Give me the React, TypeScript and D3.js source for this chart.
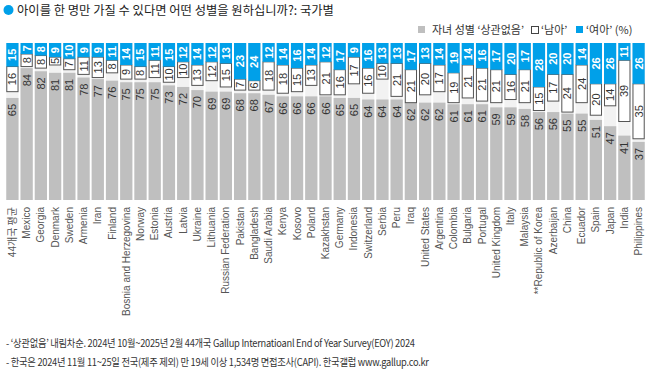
import React from "react";
import * as d3 from "d3";

const categories = ["44개국 평균","Mexico","Georgia","Denmark","Sweden","Armenia","Iran","Finland","Bosnia and Herzegovina","Norway","Estonia","Austria","Latvia","Ukraine","Lithuania","Russian Federation","Pakistan","Bangladesh","Saudi Arabia","Kenya","Kosovo","Poland","Kazakhstan","Germany","Indonesia","Switzerland","Serbia","Peru","Iraq","United States","Argentina","Colombia","Bulgaria","Portugal","United Kingdom","Italy","Malaysia","**Republic of Korea","Azerbaijan","China","Ecuador","Spain","Japan","India","Philippines"];
const noMatter = [65,84,82,81,81,78,77,76,75,75,75,73,72,70,69,69,68,68,67,66,66,66,66,65,65,64,64,64,62,62,62,61,61,61,59,59,58,56,56,55,55,51,47,41,37];
const boy = [16,8,8,5,7,11,13,8,9,8,11,10,10,13,12,15,7,6,18,18,15,13,21,16,17,16,10,21,21,20,17,19,21,21,21,16,21,15,17,24,24,20,14,39,35];
const girl = [15,7,8,9,10,9,9,11,14,15,11,15,12,14,12,13,23,24,12,14,16,14,12,17,9,16,13,13,17,13,14,19,14,16,17,20,17,28,20,20,14,26,26,11,26];

const title = "아이를 한 명만 가질 수 있다면 어떤 성별을 원하십니까?: 국가별";
const legendLabels = ["자녀 성별 ‘상관없음’", "‘남아’", "‘여아’ (%)"];
const notes = [
  "- ‘상관없음’ 내림차순. 2024년 10월~2025년 2월 44개국 Gallup Internatioanl End of Year Survey(EOY) 2024",
  "- 한국은 2024년 11월 11~25일 전국(제주 제외) 만 19세 이상 1,534명 면접조사(CAPI). 한국갤럽 www.gallup.co.kr",
];

const BLUE = "#00a0e9";
const GRAY = "#bfbfbf";
const LIGHT = "#f2f2f2";
const FONT = "'Liberation Sans Narrow', 'Liberation Sans', Arial, sans-serif";
const KFONT = "'Noto Sans CJK KR', 'Noto Sans', sans-serif";

export default function App() {
  const W = 648, H = 375;
  const x = d3.scaleBand<string>().domain(categories).range([6, 645]).paddingInner(0.14).paddingOuter(0.02);
  const y = d3.scaleLinear().domain([0, 100]).range([200, 43]);
  const bw = x.bandwidth();

  return (
    <svg width={W} height={H} style={{ position: "absolute", left: 0, top: 0, background: "#fff" }}>
      <circle cx={8.5} cy={10} r={5} fill={BLUE} />
      <text x={17} y={14.5} fontFamily={KFONT} fontSize={12.3} fill="#222">{title}</text>

      {/* legend */}
      <g fontFamily={KFONT} fontSize={11} fill="#333">
        <rect x={418} y={26} width={7} height={7} fill={GRAY} />
        <text x={432} y={34}>{legendLabels[0]}</text>
        <rect x={531.5} y={26.5} width={7} height={7} fill="#fff" stroke="#444" />
        <text x={541} y={34}>{legendLabels[1]}</text>
        <rect x={576} y={26} width={7} height={7} fill={BLUE} />
        <text x={586} y={34}>{legendLabels[2]}</text>
      </g>

      {categories.map((c, i) => {
        const x0 = x(c)!;
        const cx = x0 + bw / 2;
        const g = noMatter[i], b = boy[i], gl = girl[i];
        const whiteBottom = 100 - gl - b;
        return (
          <g key={c}>
            <rect x={x0} y={y(100)} width={bw} height={y(0) - y(100)} fill={LIGHT} />
            <rect x={x0} y={y(g)} width={bw} height={y(0) - y(g)} fill={GRAY} />
            <rect x={x0 + 0.5} y={y(100 - gl)} width={bw - 1} height={y(whiteBottom) - y(100 - gl)} fill="#fff" stroke="#555" strokeWidth={1} />
            <rect x={x0} y={y(100)} width={bw} height={y(100 - gl) - y(100)} fill={BLUE} />
            <text transform={`translate(${cx + 4},${y(g) + 6}) rotate(-90)`} textAnchor="end" fontFamily={FONT} fontSize={11} fill="#333">{g}</text>
            <text transform={`translate(${cx + 4},${(y(whiteBottom) + y(100 - gl)) / 2}) rotate(-90)`} textAnchor="middle" fontFamily={FONT} fontSize={11} fill="#333">{b}</text>
            <text transform={`translate(${cx + 4},${(y(100) + y(100 - gl)) / 2}) rotate(-90)`} textAnchor="middle" fontFamily={FONT} fontSize={11} fontWeight="bold" fill="#fff">{gl}</text>
            <text transform={`translate(${cx + 3.5},207) rotate(-90)`} textAnchor="end" fontFamily={i === 0 ? KFONT : FONT} fontSize={10} fill="#555">{c}</text>
          </g>
        );
      })}

      <g fontFamily={KFONT} fontSize={10.5} fill="#333" letterSpacing={-0.3} transform="translate(6,0) scale(0.885,1)">
        <text x={0} y={347}>{notes[0]}</text>
        <text x={0} y={366}>{notes[1]}</text>
      </g>
    </svg>
  );
}
